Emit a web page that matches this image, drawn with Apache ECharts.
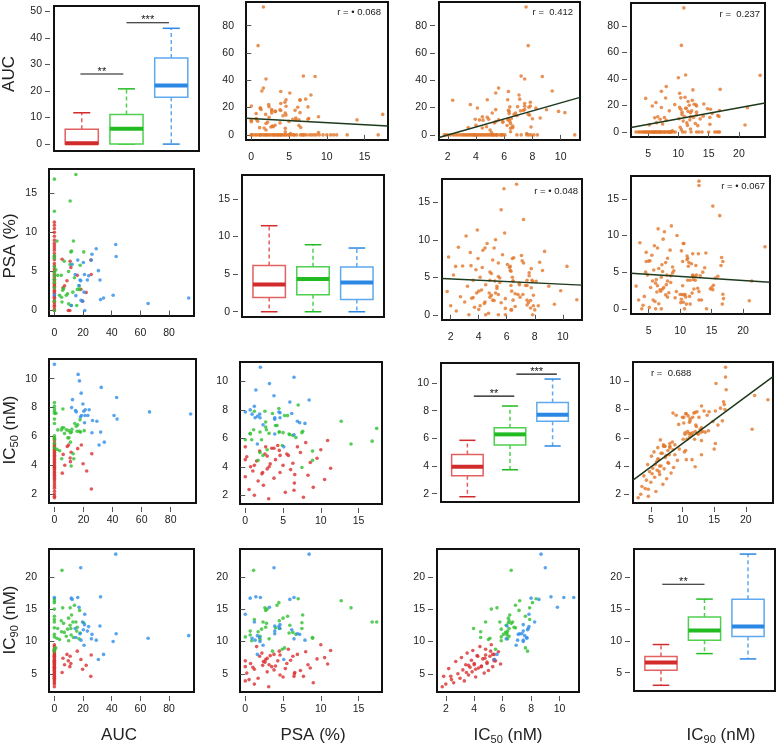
<!DOCTYPE html>
<html><head><meta charset="utf-8">
<script src="https://cdn.jsdelivr.net/npm/echarts@6/dist/echarts.min.js"></script>
<style>html,body{margin:0;padding:0;background:#fff}#c{width:777px;height:747px}</style>
</head><body><div id="c"></div>
<script>
// ---------------- DATA ----------------
// Red group
const redAUC = [0,0,0,0,0,0,0,0,0,0,0,0,0,0,0,0,0,0,0,0,0,0,0,0,0,0,0,0,0,0,0,0,0,0,0,0,0,
  5.4,6.0,7.1,8.8,9.7,10.8,11.0,11.5,16.0,18.5,19.7,22.2,25.4,25.7];
const redPSA = [3.1,7.7,1.2,5.3,0.5,9.0,2.4,6.5,1.7,10.5,3.8,0.0,8.3,2.2,4.6,1.0,6.0,2.9,11.3,0.7,5.0,3.3,8.6,1.5,4.0,9.5,0.2,5.7,2.6,7.3,1.9,10.0,3.5,6.9,4.3,8.0,10.9,
  6.55,2.9,3.15,3.8,0,0,6.3,5.5,4.5,2.7,1.2,2.3,6.45,4.6];
const redIC50 = [1.75,1.85,2.0,2.2,2.4,2.55,2.7,2.85,3.0,3.1,3.2,3.3,3.4,3.5,3.6,3.7,3.8,3.85,3.9,4.0,4.1,4.2,4.3,4.4,4.5,4.6,4.7,4.8,4.9,5.0,5.1,5.2,5.3,5.4,5.5,5.7,5.85,
  3.45,4.75,4.0,5.3,5.4,4.5,4.25,4.9,5.15,5.4,4.1,3.6,2.35,4.8];
const redIC90 = [3.0,4.6,3.4,5.8,4.1,3.6,6.9,5.0,4.3,7.5,5.6,3.9,6.4,8.2,4.8,6.0,7.1,5.3,8.6,6.6,4.5,7.8,5.9,9.2,6.2,7.3,5.1,8.8,6.8,5.5,7.7,9.5,6.1,8.0,7.0,8.4,6.5,
  5.2,7.4,6.4,8.0,7.0,6.1,7.7,6.6,8.5,7.2,5.7,6.3,4.6,7.9];
// Green group
const greenAUC = [1.0,1.8,2.3,3.6,4.8,5.0,5.3,5.8,6.4,6.9,8.3,9.2,9.9,10.0,11.0,11.0,11.5,11.7,12.0,12.9,13.3,14.0,15.0,15.6,16.0,17.2,17.6,18.0,20.5,
  0,0,0,0,0,0,0,0,0,0,0,0];
const greenPSA = [5.2,8.9,4.5,1.95,4.5,1.7,1.1,2.6,2.8,6.3,1.95,2.15,5.0,0.85,5.9,14.0,7.5,0.65,7.6,2.35,8.9,4.2,17.4,0.65,2.7,3.15,2.7,5.8,7.5,
  16.8,12.7,7.0,6.7,5.6,4.9,4.45,4.0,3.6,2.9,1.2,0.0];
const greenIC50 = [7.6,5.1,6.45,5.0,6.45,4.45,6.6,7.9,6.6,6.2,6.45,5.9,6.4,5.9,6.25,5.6,3.95,6.3,6.5,4.8,4.45,6.9,6.7,6.35,6.8,6.35,7.15,6.3,6.4,
  5.8,7.2,8.35,6.05,7.6,5.5,8.1,6.9,7.75,5.2,7.9,5.9];
const greenIC90 = [9.0,10.5,12.0,10.3,13.2,11.5,21.0,15.2,12.8,11.4,10.8,11.9,13.6,10.1,12.5,15.2,12.0,11.0,14.1,13.0,10.6,15.6,13.0,11.6,12.2,10.4,14.8,11.3,12.9,
  13.0,16.3,16.6,11.1,13.9,8.8,16.0,12.1,8.5,15.0,13.4,10.7];
// Blue group
const blueAUC = [0,11.8,12.4,14.5,15.0,16.3,17.2,17.9,18.4,18.6,19.6,20.2,20.7,21.0,21.2,23.0,23.9,25.8,26.2,29.2,30.7,31.8,32.2,34.3,41.0,42.8,43.1,65.4,93.7];
const bluePSA = [2.0,0.65,5.9,4.6,1.9,6.45,3.2,3.9,3.8,1.3,1.2,6.15,2.35,4.6,0.0,3.9,4.45,6.45,7.2,7.9,5.1,3.9,1.4,1.6,1.95,8.45,6.9,0.9,1.6];
const blueIC50 = [11.0,8.0,8.55,7.8,7.7,10.3,9.85,7.35,9.0,7.45,8.25,7.75,6.95,7.45,7.85,7.45,7.85,6.25,7.1,7.05,5.4,6.3,9.4,5.6,7.45,8.7,7.2,7.7,7.55];
const blueIC90 = [16.8,16.7,16.5,12.0,10.6,16.8,15.3,11.2,21.4,10.2,13.0,11.8,9.4,12.6,14.2,11.6,12.3,10.4,11.1,10.2,7.2,12.4,16.9,8.0,10.0,23.5,11.2,10.5,10.9];

// Boxplot statistics [min, q1, median, q3, max] for red, green, blue
const aucBox  = [[0,0,0.35,5.6,11.8],[0,0,5.8,11.1,20.8],[0,17.6,22.1,32.4,43.6]];
const psaBox  = [[0,1.9,3.64,6.17,11.45],[0,2.26,4.35,6.0,8.92],[0,1.64,3.9,5.95,8.48]];
const ic50Box = [[1.78,3.3,3.95,4.84,5.86],[3.73,5.52,6.29,6.77,8.34],[5.45,7.23,7.71,8.6,10.29]];
const ic90Box = [[3.0,5.37,6.59,7.53,9.43],[8.0,10.1,11.65,13.77,16.6],[7.16,10.7,12.29,16.56,23.7]];

// Significance bars [x from, x to, y, label]
const aucSig  = [[0.97,1.93,26.4,'**'],[2.0,2.95,45.7,'***']];
const psaSig  = [];
const ic50Sig = [[1.15,2.1,9.06,'**'],[2.15,3.1,10.65,'***']];
const ic90Sig = [[1.03,2.0,18.94,'**']];

// Correlation labels and fitted lines (upper panels), keyed by "row,col"
const rLabels = {'0,1':'r = \u2022 0.068','0,2':'r =  0.412','0,3':'r =  0.237','1,2':'r = \u2022 0.048','1,3':'r = \u2022 0.067','2,3':'r =  0.688'};
const fitLines = {
  '0,1': [[-0.7,12.2],[18.1,6.6]],
  '0,2': [[1.38,-1.95],[11.37,27.5]],
  '0,3': [[2.18,3.5],[24.3,22.0]],
  '1,2': [[1.38,4.84],[11.37,3.95]],
  '1,3': [[2.18,4.85],[24.3,3.62]],
  '2,3': [[2.18,3.0],[24.3,10.33]]
};

// Axis tick labels
const scatterTicks = [[0,20,40,60,80],[0,5,10,15],[2,4,6,8,10],[5,10,15,20]];
const boxTicks     = [[0,10,20,30,40,50],[0,5,10,15],[2,4,6,8,10],[5,10,15,20]];
const axisTitles = ['AUC','PSA (%)','IC{s|50} (nM)','IC{s|90} (nM)'];

// ---------------- LAYOUT / STYLE ----------------
const FONT = '"Liberation Sans", Arial, Helvetica, sans-serif';
const scatterRange = [[-3.75,97.4],[-0.7,18.1],[1.38,11.37],[2.18,24.3]];
const boxYRange = [[-2.6,52],[-0.7,18.2],[1.4,11.45],[2.1,24.5]];
const boxXRange = [0.38,3.62];
// panel boxes [left, top, width, height]
const panels = [
  [[54,6,145,145],[246,2,142,138],[439,2,141,138],[631,3,134,134]],
  [[49,169,145,147],[242,175,142,142],[442,179,140,141],[631,176,139,138]],
  [[49,359,147,144],[240,362,142,142],[441,363,138,139],[633,362,140,141]],
  [[49,549,145,143],[240,549,142,143],[437,549,142,143],[634,549,141,142]]
];
const rPos = {'0,1':['right',7,11],'0,2':['right',7,11],'0,3':['right',5,12],'1,2':['right',4,13],'1,3':['right',5,11],'2,3':['left',18,12]};
const leftTitlePos = [[9,74],[10,246],[10,430],[10,620]];
const bottomTitlePos = [[119,735],[313,735],[508,735],[721,735]];

const ptColors = ['#d93030','#2fc02f','#2f8fe8'];
const orange = '#e2772b';
const boxEdge = ['#e26060','#4fd04f','#5ea9f0'];
const boxMed = ['#d12b2b','#22bb22','#2a87e3'];

const groupVars = [
  [redAUC, redPSA, redIC50, redIC90],
  [greenAUC, greenPSA, greenIC50, greenIC90],
  [blueAUC, bluePSA, blueIC50, blueIC90]
];
const boxStats = [aucBox, psaBox, ic50Box, ic90Box];
const sigBars = [aucSig, psaSig, ic50Sig, ic90Sig];

function zip(xs, ys) { return xs.map((v, i) => [v, ys[i]]); }

function axisCfg(dim, k, range, ticks) {
  const a = {gridIndex:k, type:'value', min:range[0], max:range[1],
    position: dim === 'x' ? 'bottom' : 'left', offset: 4,
    axisLine:{show:false}, splitLine:{show:false}};
  if (!ticks) { a.show = false; return a; }
  a.axisTick = {show:true, length:5, lineStyle:{color:'#555', width:1}, customValues: ticks};
  a.axisLabel = {show:true, customValues: ticks, fontFamily: FONT, fontSize: 10.5, color:'#222', margin: 8};
  return a;
}

const grids = [], xAxes = [], yAxes = [], series = [], graphics = [];
for (let r = 0; r < 4; r++) {
  for (let c = 0; c < 4; c++) {
    const k = r * 4 + c;
    const [L, T, W, H] = panels[r][c];
    grids.push({left:L, top:T, width:W, height:H, show:true, borderColor:'#111', borderWidth:2, backgroundColor:'#fff'});
    const diag = r === c;
    xAxes.push(axisCfg('x', k, diag ? boxXRange : scatterRange[c], diag ? null : scatterTicks[c]));
    yAxes.push(axisCfg('y', k, diag ? boxYRange[r] : scatterRange[r], diag ? boxTicks[r] : scatterTicks[r]));
    if (diag) {
      series.push({
        type:'custom', xAxisIndex:k, yAxisIndex:k, silent:true,
        data: boxStats[r].map((s, i) => [i + 1].concat(s)),
        renderItem: function (params, api) {
          const g = params.dataIndex;
          const x = api.value(0), mn = api.value(1), q1 = api.value(2), md = api.value(3), q3 = api.value(4), mx = api.value(5);
          const hw = 0.37, cw = 0.19;
          const tl = api.coord([x - hw, q3]), br = api.coord([x + hw, q1]);
          const pMin = api.coord([x, mn]), pMax = api.coord([x, mx]);
          const pq1 = api.coord([x, q1]), pq3 = api.coord([x, q3]);
          const cl = api.coord([x - cw, mn]), cr = api.coord([x + cw, mn]);
          const tlc = api.coord([x - cw, mx]), trc = api.coord([x + cw, mx]);
          const ml = api.coord([x - hw, md]), mr = api.coord([x + hw, md]);
          const e = boxEdge[g], m = boxMed[g];
          return {type:'group', children:[
            {type:'line', shape:{x1:pq3[0], y1:pq3[1], x2:pMax[0], y2:pMax[1]}, style:{stroke:e, lineWidth:1.5, lineDash:[4,3]}},
            {type:'line', shape:{x1:pq1[0], y1:pq1[1], x2:pMin[0], y2:pMin[1]}, style:{stroke:e, lineWidth:1.5, lineDash:[4,3]}},
            {type:'line', shape:{x1:cl[0], y1:cl[1], x2:cr[0], y2:cr[1]}, style:{stroke:m, lineWidth:1.5}},
            {type:'line', shape:{x1:tlc[0], y1:tlc[1], x2:trc[0], y2:trc[1]}, style:{stroke:m, lineWidth:1.5}},
            {type:'rect', shape:{x:tl[0], y:tl[1], width:br[0] - tl[0], height:br[1] - tl[1]}, style:{fill:'#fff', stroke:e, lineWidth:1.5}},
            {type:'line', shape:{x1:ml[0], y1:ml[1], x2:mr[0], y2:mr[1]}, style:{stroke:m, lineWidth:4}}
          ]};
        }
      });
      if (sigBars[r].length) {
        series.push({
          type:'custom', xAxisIndex:k, yAxisIndex:k, silent:true,
          data: sigBars[r].map(s => [s[0], s[2], s[1]]),
          renderItem: function (params, api) {
            const a = api.coord([api.value(0), api.value(1)]);
            const b = api.coord([api.value(2), api.value(1)]);
            const lab = sigBars[r][params.dataIndex][3];
            return {type:'group', children:[
              {type:'line', shape:{x1:a[0], y1:a[1], x2:b[0], y2:b[1]}, style:{stroke:'#111', lineWidth:1.2}},
              {type:'text', x:(a[0] + b[0]) / 2, y:a[1] + 3, style:{text:lab, fontSize:11, fontFamily:FONT, fill:'#111', align:'center', verticalAlign:'bottom'}}
            ]};
          }
        });
      }
    } else if (r > c) {
      for (let g = 0; g < 3; g++) {
        series.push({type:'scatter', xAxisIndex:k, yAxisIndex:k, silent:true, symbolSize:3.6,
          itemStyle:{color:ptColors[g]}, data: zip(groupVars[g][c], groupVars[g][r])});
      }
    } else {
      let pts = [];
      for (let g = 0; g < 3; g++) pts = pts.concat(zip(groupVars[g][c], groupVars[g][r]));
      series.push({type:'scatter', xAxisIndex:k, yAxisIndex:k, silent:true, symbolSize:3.6,
        itemStyle:{color:orange}, data: pts});
      const key = r + ',' + c;
      series.push({type:'line', xAxisIndex:k, yAxisIndex:k, silent:true, symbol:'none', clip:true,
        lineStyle:{color:'#1e3a1e', width:1.5}, data: fitLines[key]});
      const p = rPos[key];
      graphics.push({type:'text', left: p[0] === 'left' ? L + p[1] : undefined,
        right: p[0] === 'right' ? 777 - (L + W) + p[1] : undefined,
        top: T + p[2] - 6,
        style:{text: rLabels[key], fontSize:9.5, fontFamily:FONT, fill:'#222'}});
    }
  }
}

const rich = {s:{fontSize:11, fontFamily:FONT, fill:'#222', padding:[9,0,0,0]}};
axisTitles.forEach((t, i) => {
  graphics.push({type:'text', x: leftTitlePos[i][0], y: leftTitlePos[i][1], rotation: Math.PI / 2,
    style:{text: t, rich: rich, fontSize:17, fontFamily:FONT, fill:'#222', align:'center', verticalAlign:'middle'}});
  graphics.push({type:'text', x: bottomTitlePos[i][0], y: bottomTitlePos[i][1],
    style:{text: t, rich: rich, fontSize:17, fontFamily:FONT, fill:'#222', align:'center', verticalAlign:'middle'}});
});

const chart = echarts.init(document.getElementById('c'));
chart.setOption({animation:false, grid:grids, xAxis:xAxes, yAxis:yAxes, series:series, graphic:graphics});
</script></body></html>
